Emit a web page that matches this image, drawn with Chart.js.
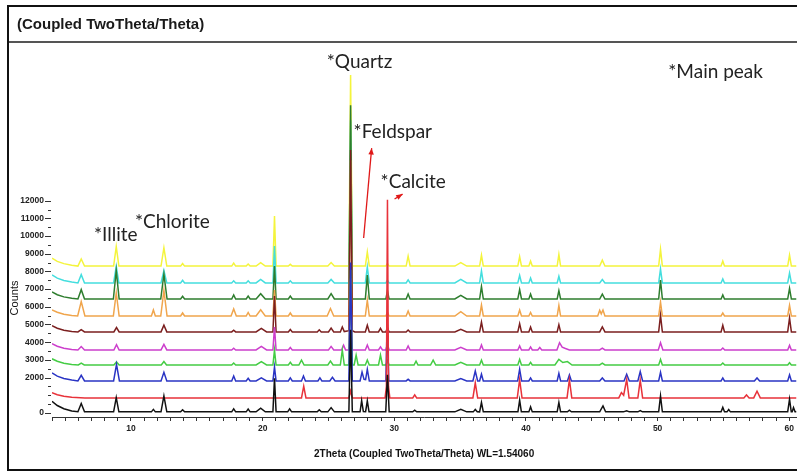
<!DOCTYPE html>
<html>
<head>
<meta charset="utf-8">
<script src="https://cdn.jsdelivr.net/npm/chart.js@4/dist/chart.umd.min.js"></script>
<style>
html,body{margin:0;padding:0;background:#fff;width:797px;height:475px;overflow:hidden;}
#wrap{position:relative;width:797px;height:475px;}
#c{position:absolute;left:0;top:0;}
#frame{position:absolute;left:7px;top:5px;width:800px;height:466px;border:2px solid #111;box-sizing:border-box;pointer-events:none;}
#bar{position:absolute;left:9px;top:41px;width:800px;height:0;border-top:2px solid #555;}
#title{position:absolute;left:17px;top:15px;font:bold 15px "Liberation Sans",Arial,sans-serif;color:#1a1a1a;white-space:nowrap;}
</style>
</head>
<body>
<div id="wrap">
<canvas id="c" width="797" height="475"></canvas>
<div id="frame"></div>
<div id="bar"></div>
<div id="title">(Coupled TwoTheta/Theta)</div>
</div>
<script>
// ---- data (2Theta in degrees, intensity in counts) ----
const seriesNames = ["S1","S2","S3","S4","S5","S6","S7","S8","S9","S10"];
const seriesColors = ["#111111","#e8323a","#2a34c4","#44cc44","#cc3fcc","#7b1f1f","#f0a54c","#2e7d2e","#44dede","#f4f43c"];
const xTickMarks = [4,5,6,7,8,9,10,11,12,13,14,15,16,17,18,19,20,21,22,23,24,25,26,27,28,29,30,31,32,33,34,35,36,37,38,39,40,41,42,43,44,45,46,47,48,49,50,51,52,53,54,55,56,57,58,59,60];
const xTickLabels = [10,20,30,40,50,60];
const yTickMarks = [0,500,1000,1500,2000,2500,3000,3500,4000,4500,5000,5500,6000,6500,7000,7500,8000,8500,9000,9500,10000,10500,11000,11500,12000];
const yTickLabels = [0,2000,3000,4000,5000,6000,7000,8000,9000,10000,11000,12000];

const black = [[4,660],[4.4,420],[4.9,240],[5.5,110],[5.97,70],[6.22,530],[6.47,60],[8.68,60],[8.88,860],[9.08,60],[11.55,60],[11.7,200],[11.85,60],[12.28,60],[12.5,960],[12.72,60],[13.77,60],[13.92,180],[14.07,60],[17.65,60],[17.8,230],[17.95,60],[18.75,60],[18.9,220],[19.05,60],[19.5,60],[19.85,270],[20.2,60],[20.78,60],[20.9,1960],[21.02,60],[21.9,60],[22.05,230],[22.2,60],[24.15,60],[24.3,180],[24.45,60],[24.95,60],[25.2,300],[25.45,60],[26.55,60],[26.68,4700],[26.81,60],[27.4,60],[27.52,700],[27.65,80],[27.82,70],[27.95,680],[28.08,60],[29.35,60],[29.48,2160],[29.61,60],[31.4,60],[31.55,150],[31.7,60],[34.6,60],[35.05,200],[35.5,60],[36.0,60],[36.15,200],[36.3,70],[36.48,60],[36.62,590],[36.76,60],[39.39,60],[39.52,720],[39.65,60],[40.22,60],[40.35,340],[40.48,60],[42.37,60],[42.5,590],[42.63,60],[43.15,60],[43.3,150],[43.45,60],[45.6,60],[45.85,400],[46.05,60],[47.4,60],[47.65,120],[47.85,60],[48.5,60],[48.68,130],[48.85,60],[50.08,60],[50.22,960],[50.36,60],[54.82,60],[54.95,310],[55.08,60],[55.27,60],[55.4,190],[55.53,60],[59.88,60],[60.02,780],[60.15,60],[60.22,60],[60.32,300],[60.44,60],[60.6,60]];
const red = [[4,1150],[4.4,1030],[4.9,940],[5.5,880],[6.5,850],[22.95,850],[23.12,1510],[23.29,850],[26.55,850],[26.68,1250],[26.81,850],[29.3,850],[29.4,1500],[29.48,12050],[29.56,1500],[29.66,850],[31.4,850],[31.55,1020],[31.7,850],[35.97,850],[36.15,1700],[36.33,850],[39.34,850],[39.52,1890],[39.7,850],[43.12,850],[43.3,1890],[43.48,850],[47.05,850],[47.25,1150],[47.42,1000],[47.65,1890],[47.83,850],[48.5,850],[48.68,1850],[48.86,850],[56.55,850],[56.75,1020],[56.95,850],[57.3,850],[57.55,1230],[57.8,850],[60.6,850]];
const blue = [[4,2260],[4.4,2080],[4.9,1950],[5.5,1860],[5.97,1810],[6.22,2130],[6.47,1810],[8.68,1810],[8.9,2750],[9.12,1810],[12.28,1810],[12.5,2300],[12.72,1810],[17.65,1810],[17.8,2090],[17.95,1810],[18.75,1810],[18.9,1960],[19.05,1810],[19.5,1810],[19.9,1980],[20.3,1810],[20.78,1810],[20.9,2600],[21.02,1810],[21.95,1810],[22.1,1980],[22.25,1810],[22.95,1810],[23.1,2090],[23.25,1810],[24.2,1810],[24.35,1980],[24.5,1810],[25.1,1810],[25.3,2010],[25.5,1810],[26.55,1810],[26.68,8500],[26.81,1810],[27.4,1810],[27.55,2310],[27.7,1900],[27.82,1880],[27.95,2470],[28.1,1810],[29.36,1810],[29.46,5260],[29.58,1810],[30.9,1810],[31.05,1900],[31.2,1810],[34.6,1810],[35.05,1950],[35.5,1810],[35.97,1810],[36.15,2370],[36.33,1810],[36.48,1810],[36.62,2190],[36.76,1810],[39.37,1810],[39.52,2470],[39.67,1810],[40.22,1810],[40.35,1980],[40.48,1810],[42.37,1810],[42.5,2240],[42.63,1810],[43.15,1810],[43.3,2150],[43.45,1810],[45.6,1810],[45.8,1980],[46.0,1810],[47.45,1810],[47.65,2190],[47.85,1810],[48.5,1810],[48.68,2340],[48.86,1810],[50.08,1810],[50.22,2300],[50.36,1810],[54.82,1810],[54.95,1980],[55.08,1810],[57.35,1810],[57.55,1980],[57.75,1810],[59.88,1810],[60.02,2150],[60.16,1810],[60.6,1810]];
const green = [[4,3060],[4.4,2920],[4.9,2810],[5.5,2740],[6.0,2710],[6.22,2810],[6.45,2710],[8.7,2710],[8.9,2880],[9.1,2710],[12.3,2710],[12.5,2910],[12.7,2710],[17.65,2710],[17.8,2820],[17.95,2710],[19.5,2710],[19.9,2900],[20.3,2710],[20.78,2710],[20.9,3560],[21.02,2710],[21.95,2710],[22.1,2860],[22.25,2710],[22.75,2710],[22.95,2990],[23.15,2710],[24.95,2710],[25.15,2930],[25.35,2710],[25.9,2710],[26.05,3560],[26.2,2710],[26.55,2710],[26.68,8100],[26.81,2710],[26.95,2710],[27.1,3270],[27.25,2710],[27.8,2710],[27.95,2990],[28.1,2710],[28.8,2710],[28.95,3270],[29.1,2710],[29.36,2710],[29.48,2950],[29.6,2710],[31.5,2710],[31.65,2930],[31.8,2710],[32.75,2710],[32.95,2990],[33.15,2710],[34.6,2710],[35.05,2860],[35.5,2710],[36.48,2710],[36.62,2990],[36.76,2710],[39.38,2710],[39.52,3030],[39.66,2710],[40.22,2710],[40.35,2860],[40.48,2710],[42.2,2710],[42.5,3030],[42.8,2850],[43.15,2900],[43.5,2710],[45.6,2710],[45.8,2810],[46.0,2710],[50.08,2710],[50.22,3030],[50.36,2710],[54.8,2710],[54.95,2820],[55.1,2710],[59.88,2710],[60.02,2840],[60.16,2710],[60.6,2710]];
const magenta = [[4,3910],[4.4,3770],[4.9,3660],[5.5,3590],[5.97,3560],[6.22,3750],[6.47,3560],[8.7,3560],[8.9,3860],[9.1,3560],[12.28,3560],[12.5,3880],[12.72,3560],[17.65,3560],[17.8,3660],[17.95,3560],[19.5,3560],[19.9,3760],[20.3,3560],[20.78,3560],[20.9,4860],[21.02,3560],[21.95,3560],[22.1,3700],[22.25,3560],[25.0,3560],[25.2,3760],[25.4,3560],[26.0,3560],[26.15,3830],[26.3,3560],[26.55,3560],[26.68,7600],[26.81,3560],[27.8,3560],[27.95,3840],[28.1,3560],[28.8,3560],[28.95,3730],[29.1,3560],[29.36,3560],[29.48,3900],[29.6,3560],[30.9,3560],[31.05,3790],[31.2,3560],[34.6,3560],[35.05,3710],[35.5,3560],[36.48,3560],[36.62,3840],[36.76,3560],[39.38,3560],[39.52,3790],[39.66,3560],[40.22,3560],[40.35,3730],[40.48,3560],[40.9,3560],[41.05,3700],[41.2,3560],[42.35,3560],[42.55,3970],[42.75,3720],[43.0,3640],[43.3,3560],[45.6,3560],[45.8,3660],[46.0,3560],[50.05,3560],[50.22,3970],[50.4,3560],[54.8,3560],[54.95,3670],[55.1,3560],[59.88,3560],[60.02,3820],[60.16,3560],[60.6,3560]];
const maroon = [[4,4930],[4.4,4790],[4.9,4680],[5.5,4610],[5.97,4580],[6.22,4710],[6.47,4580],[8.7,4580],[8.9,4830],[9.1,4580],[12.28,4580],[12.5,4960],[12.72,4580],[17.65,4580],[17.8,4680],[17.95,4580],[19.5,4580],[19.9,4780],[20.3,4580],[20.78,4580],[20.9,6610],[21.02,4580],[21.95,4580],[22.1,4720],[22.25,4580],[24.15,4580],[24.3,4700],[24.45,4580],[25.0,4580],[25.2,4800],[25.4,4580],[25.9,4580],[26.05,4860],[26.2,4600],[26.55,4650],[26.68,14860],[26.81,4650],[27.0,4580],[27.8,4580],[27.95,4960],[28.1,4580],[28.8,4580],[28.95,4780],[29.1,4580],[29.36,4580],[29.48,4830],[29.6,4580],[30.9,4580],[31.05,4690],[31.2,4580],[34.6,4580],[35.05,4730],[35.5,4580],[36.48,4580],[36.62,5140],[36.76,4580],[39.38,4580],[39.52,5050],[39.66,4580],[40.22,4580],[40.35,4860],[40.48,4580],[42.37,4580],[42.5,4990],[42.63,4580],[45.6,4580],[45.8,4860],[46.0,4580],[50.08,4580],[50.22,5520],[50.36,4580],[54.82,4580],[54.95,4960],[55.08,4580],[59.88,4580],[60.02,5370],[60.16,4580],[60.6,4580]];
const orange = [[4,5830],[4.4,5690],[4.9,5580],[5.5,5510],[5.95,5480],[6.22,6290],[6.5,5480],[8.66,5480],[8.88,6780],[9.1,5480],[11.55,5480],[11.7,5820],[11.85,5480],[12.26,5480],[12.5,6930],[12.74,5480],[13.77,5480],[13.92,5650],[14.07,5480],[17.6,5480],[17.8,5880],[18.0,5480],[18.75,5480],[18.9,5680],[19.05,5480],[19.5,5480],[19.85,5830],[20.2,5480],[20.78,5480],[20.9,6950],[21.02,5480],[21.95,5480],[22.1,5650],[22.25,5480],[24.9,5480],[25.15,5900],[25.4,5480],[26.55,5480],[26.68,14290],[26.81,5480],[27.8,5480],[27.95,6380],[28.1,5480],[29.36,5480],[29.48,5680],[29.6,5480],[30.9,5480],[31.05,5760],[31.2,5480],[34.6,5480],[35.05,5730],[35.5,5480],[36.48,5480],[36.62,6100],[36.76,5480],[39.38,5480],[39.52,5820],[39.66,5480],[40.22,5480],[40.35,5680],[40.48,5480],[42.37,5480],[42.5,6080],[42.63,5480],[45.45,5480],[45.6,5800],[45.72,5600],[45.85,5820],[46.0,5480],[50.08,5480],[50.22,6270],[50.36,5480],[54.82,5480],[54.95,5650],[55.08,5480],[59.88,5480],[60.02,6080],[60.16,5480],[60.6,5480]];
const darkGreen = [[4,6840],[4.4,6680],[4.9,6560],[5.5,6480],[5.97,6440],[6.22,6970],[6.47,6440],[8.66,6440],[8.88,8040],[9.1,6440],[12.26,6440],[12.5,7840],[12.74,6440],[13.77,6440],[13.92,6590],[14.07,6440],[17.65,6440],[17.8,6670],[17.95,6440],[18.75,6440],[18.9,6610],[19.05,6440],[19.5,6440],[19.85,6740],[20.2,6440],[20.78,6440],[20.9,8300],[21.02,6440],[21.95,6440],[22.1,6610],[22.25,6440],[24.95,6440],[25.2,6740],[25.45,6440],[26.55,6440],[26.68,17400],[26.81,6440],[27.8,6440],[27.95,7790],[28.1,6440],[29.36,6440],[29.48,6910],[29.6,6440],[30.9,6440],[31.05,6720],[31.2,6440],[34.6,6440],[35.05,6640],[35.5,6440],[36.48,6440],[36.62,7150],[36.76,6440],[39.38,6440],[39.52,6970],[39.66,6440],[40.22,6440],[40.35,6720],[40.48,6440],[42.37,6440],[42.5,6910],[42.63,6440],[45.6,6440],[45.8,6720],[46.0,6440],[50.08,6440],[50.22,7510],[50.36,6440],[54.82,6440],[54.95,6670],[55.08,6440],[59.88,6440],[60.02,7040],[60.16,6440],[60.6,6440]];
const cyan = [[4,7800],[4.4,7620],[4.9,7490],[5.5,7400],[5.97,7350],[6.22,7820],[6.47,7350],[8.68,7350],[8.88,8290],[9.08,7350],[12.28,7350],[12.5,8050],[12.72,7350],[13.77,7350],[13.92,7500],[14.07,7350],[17.65,7350],[17.8,7470],[17.95,7350],[18.75,7350],[18.9,7470],[19.05,7350],[19.5,7350],[19.85,7550],[20.2,7350],[20.78,7350],[20.9,9435],[21.02,7350],[21.95,7350],[22.1,7470],[22.25,7350],[24.95,7350],[25.2,7550],[25.45,7350],[26.55,7350],[26.68,16550],[26.81,7350],[27.8,7350],[27.95,8250],[28.1,7350],[29.36,7350],[29.48,7500],[29.6,7350],[30.9,7350],[31.05,7520],[31.2,7350],[34.6,7350],[35.05,7550],[35.5,7350],[36.48,7350],[36.62,8030],[36.76,7350],[39.38,7350],[39.52,7780],[39.66,7350],[40.22,7350],[40.35,7630],[40.48,7350],[42.37,7350],[42.5,7730],[42.63,7350],[45.6,7350],[45.8,7540],[46.0,7350],[50.08,7350],[50.22,8140],[50.36,7350],[54.82,7350],[54.95,7580],[55.08,7350],[59.88,7350],[60.02,7910],[60.16,7350],[60.6,7350]];
const yellow = [[4,8750],[4.4,8570],[4.9,8440],[5.5,8350],[5.97,8300],[6.22,8700],[6.47,8300],[8.68,8300],[8.88,9400],[9.08,8300],[12.28,8300],[12.5,9340],[12.72,8300],[13.77,8300],[13.92,8450],[14.07,8300],[17.65,8300],[17.8,8470],[17.95,8300],[18.75,8300],[18.9,8420],[19.05,8300],[19.5,8300],[19.85,8500],[20.2,8300],[20.78,8300],[20.9,11130],[21.02,8300],[21.95,8300],[22.1,8400],[22.25,8300],[24.95,8300],[25.2,8500],[25.45,8300],[26.55,8300],[26.68,19100],[26.81,8300],[27.8,8300],[27.95,9100],[28.1,8300],[29.36,8300],[29.48,8450],[29.6,8300],[30.9,8300],[31.05,8860],[31.2,8300],[34.6,8300],[35.05,8500],[35.5,8300],[36.48,8300],[36.62,8920],[36.76,8300],[39.38,8300],[39.52,8830],[39.66,8300],[40.22,8300],[40.35,8580],[40.48,8300],[42.37,8300],[42.5,8960],[42.63,8300],[45.6,8300],[45.8,8640],[46.0,8300],[50.08,8300],[50.22,9260],[50.36,8300],[54.82,8300],[54.95,8580],[55.08,8300],[59.88,8300],[60.02,8920],[60.16,8300],[60.6,8300]];

// phase labels placed at (2Theta, counts)
const phaseLabels = [
  {text:"*Quartz", x:24.87, y:19830},
  {text:"*Main peak", x:50.81, y:19270},
  {text:"*Feldspar", x:26.91, y:15880},
  {text:"*Calcite", x:28.96, y:13050},
  {text:"*Illite", x:7.19, y:10060},
  {text:"*Chlorite", x:10.3, y:10790}
];
const arrows = [
  {from:[27.67, 9890], to:[28.28, 14970]},
  {from:[30.02, 12090], to:[30.63, 12370]}
];

const allSeries = [black, red, blue, green, magenta, maroon, orange, darkGreen, cyan, yellow];

const annotPlugin = {
  id: 'annot',
  afterDraw(chart) {
    const ctx = chart.ctx, xs = chart.scales.x, ys = chart.scales.y;
    ctx.save();
    // y-axis tick marks (longer where labelled)
    ctx.strokeStyle = '#333';
    ctx.lineWidth = 1;
    yTickMarks.forEach(v => {
      const py = Math.round(ys.getPixelForValue(v)) + 0.5;
      const len = yTickLabels.includes(v) ? 7 : 4;
      ctx.beginPath(); ctx.moveTo(xs.left - len, py); ctx.lineTo(xs.left - 1, py); ctx.stroke();
    });
    ctx.fillStyle = '#222';
    ctx.font = '19px Lato, "Open Sans", sans-serif';
    ctx.textBaseline = 'middle';
    ctx.textAlign = 'left';
    phaseLabels.forEach(l => ctx.fillText(l.text, xs.getPixelForValue(l.x), ys.getPixelForValue(l.y)));
    ctx.strokeStyle = '#e01818';
    ctx.fillStyle = '#e01818';
    ctx.lineWidth = 1.3;
    arrows.forEach(a => {
      const x1 = xs.getPixelForValue(a.from[0]), y1 = ys.getPixelForValue(a.from[1]);
      const x2 = xs.getPixelForValue(a.to[0]), y2 = ys.getPixelForValue(a.to[1]);
      ctx.beginPath(); ctx.moveTo(x1, y1); ctx.lineTo(x2, y2); ctx.stroke();
      const ang = Math.atan2(y2 - y1, x2 - x1), L = 7, W = 0.4;
      ctx.beginPath();
      ctx.moveTo(x2, y2);
      ctx.lineTo(x2 - L * Math.cos(ang - W), y2 - L * Math.sin(ang - W));
      ctx.lineTo(x2 - L * Math.cos(ang + W), y2 - L * Math.sin(ang + W));
      ctx.closePath(); ctx.fill();
    });
    // y-axis title
    ctx.fillStyle = '#111';
    ctx.font = '11px "Liberation Sans", Arial, sans-serif';
    ctx.textAlign = 'center';
    ctx.translate(15, ys.getPixelForValue(6500));
    ctx.rotate(-Math.PI / 2);
    ctx.fillText('Counts', 0, 0);
    ctx.restore();
  }
};

new Chart(document.getElementById('c'), {
  type: 'scatter',
  data: {
    datasets: allSeries.map((d, i) => ({
      label: seriesNames[i],
      data: d.map(p => ({x: p[0], y: p[1]})),
      showLine: true,
      borderColor: seriesColors[i],
      backgroundColor: seriesColors[i],
      borderWidth: 1.5,
      pointRadius: 0,
      tension: 0
    }))
  },
  options: {
    responsive: false,
    animation: false,
    devicePixelRatio: 1,
    layout: {padding: {top: 45, right: 0, bottom: 0, left: 0}},
    plugins: {legend: {display: false}, tooltip: {enabled: false}},
    scales: {
      x: {
        type: 'linear', min: 4, max: 60.53,
        afterFit: s => { s.height = 58; },
        afterBuildTicks: s => { s.ticks = xTickMarks.map(v => ({value: v})); },
        ticks: {
          autoSkip: false, maxRotation: 0, padding: 3,
          callback: v => xTickLabels.includes(v) ? String(v) : '',
          font: {family: '"Liberation Sans", Arial, sans-serif', size: 8.5, weight: 'bold'},
          color: '#222'
        },
        grid: {drawOnChartArea: false, drawTicks: true, tickLength: 4, tickColor: '#333'},
        border: {display: true, color: '#333', width: 1},
        title: {
          display: true, text: '2Theta (Coupled TwoTheta/Theta) WL=1.54060',
          font: {family: '"Liberation Sans", Arial, sans-serif', size: 10, weight: 'bold'},
          color: '#111', padding: {top: 0, bottom: 15}
        }
      },
      y: {
        type: 'linear', min: -230, max: 20800,
        afterFit: s => { s.width = 52; },
        afterBuildTicks: s => { s.ticks = yTickMarks.map(v => ({value: v})); },
        ticks: {
          autoSkip: false, padding: 8,
          callback: v => yTickLabels.includes(v) ? String(v) : '',
          font: {family: '"Liberation Sans", Arial, sans-serif', size: 8.5, weight: 'bold'},
          color: '#222'
        },
        grid: {drawOnChartArea: false, drawTicks: false},
        border: {display: false}
      }
    }
  },
  plugins: [annotPlugin]
});
</script>
</body>
</html>
